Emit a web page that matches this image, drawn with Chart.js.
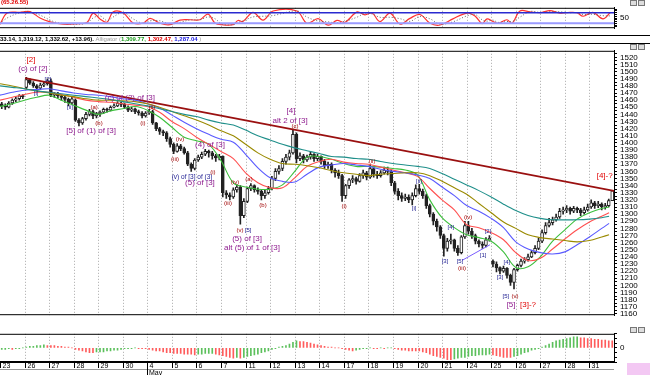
<!DOCTYPE html>
<html>
<head>
<meta charset="utf-8">
<script src="https://cdn.jsdelivr.net/npm/chart.js@4.4.1/dist/chart.umd.min.js"></script>
<style>
  body { margin: 0; background: #fff; width: 650px; height: 375px; overflow: hidden; position: relative; font-family: "Liberation Sans", Arial, sans-serif; }
  canvas { position: absolute; left: 0; }
  #osc { top: 0; }
  #main { top: 43px; }
  #hist { top: 326px; }
  .hdr { position: absolute; left: 0; top: 36px; font-size: 6px; line-height: 7px; font-weight: bold; white-space: nowrap; color: #000; }
  .hdr .g { color: #999; font-weight: normal; }
  .sep { position: absolute; left: 0; width: 650px; height: 1px; background: #000; }
  .tag { position: absolute; left: 1px; top: -1px; font-size: 6px; font-weight: bold; color: #e00000; }
  .pink { position: absolute; left: 627px; top: 363px; width: 23px; height: 12px; background: #f3c8f3; }
  .ico { position: absolute; width: 5px; height: 4px; border: 1px solid #777; background: #ddd; }
</style>
</head>
<body>
<canvas id="osc" width="650" height="36"></canvas>
<div class="tag">(65.26.55)</div>
<div class="ico" style="left:630px;top:0px"></div><div class="ico" style="left:638px;top:0px"></div>
<div class="sep" style="top:35px"></div>
<div class="hdr">33.14, 1,319.12, 1,332.62, +13.96). <span class="g">Alligator (</span><span style="color:#1a9a1a">1,309.77,</span> <span style="color:#e00000">1,302.47,</span> <span style="color:#2020e0">1,287.04</span> <span class="g">)</span></div>
<div class="sep" style="top:43px"></div>
<canvas id="main" width="650" height="280"></canvas>
<div class="ico" style="left:630px;top:44px"></div><div class="ico" style="left:638px;top:44px"></div>
<canvas id="hist" width="650" height="49"></canvas>
<div class="ico" style="left:630px;top:327px"></div><div class="ico" style="left:638px;top:327px"></div>
<div class="pink"></div>
<script>
/* graphique de type bourse : oscillateur, chandeliers + moyennes, histogramme */

// jours de séance (avril 23 -> mai 31), 7 barres par jour
const dayNames = ["23","26","27","28","29","30","4","5","6","7","11","12","13","14","17","18","19","20","21","24","25","26","27","28","31"];
const barsPerDay = 7;

// chandeliers (open / high / low / close), un bloc de 7 par jour
const opens = [
  1455,1452,1450,1456,1460,1462,1466, 1478,1489,1484,1480,1477,1481,1483,
  1487,1467,1469,1466,1464,1461,1456, 1460,1432,1428,1434,1440,1444,1438,
  1441,1443,1447,1446,1450,1452,1456, 1454,1450,1446,1448,1444,1442,1438,
  1442,1444,1428,1420,1416,1414,1406, 1398,1388,1396,1392,1386,1370,1364,
  1376,1380,1384,1388,1386,1382,1379, 1381,1330,1327,1324,1334,1338,1298,
  1318,1336,1340,1334,1332,1326,1330, 1336,1350,1360,1364,1374,1380,1386,
  1412,1378,1382,1376,1380,1384,1378, 1381,1374,1368,1370,1362,1358,1354,
  1326,1340,1348,1350,1346,1354,1358, 1352,1364,1356,1354,1358,1362,1360,
  1344,1332,1326,1322,1324,1320,1326, 1336,1332,1326,1312,1300,1290,1282,
  1270,1252,1262,1264,1252,1246,1268, 1284,1276,1270,1262,1258,1256,1264,
  1234,1230,1225,1220,1224,1214,1204, 1222,1228,1234,1236,1240,1246,1252,
  1262,1274,1284,1288,1292,1296,1304, 1306,1308,1304,1308,1306,1302,1306,
  1310,1316,1312,1314,1310,1312,1319
];
const highs = [
  1457,1455,1458,1462,1465,1468,1468, 1492,1490,1486,1482,1484,1486,1490,
  1490,1471,1471,1468,1466,1463,1464, 1462,1434,1436,1443,1447,1446,1443,
  1445,1449,1449,1452,1455,1458,1457, 1456,1452,1450,1449,1446,1444,1444,
  1447,1446,1429,1422,1418,1416,1408, 1400,1399,1398,1394,1388,1372,1378,
  1383,1387,1391,1390,1388,1384,1384, 1382,1333,1330,1337,1341,1340,1322,
  1338,1343,1341,1337,1334,1334,1339, 1353,1364,1368,1378,1384,1390,1419,
  1414,1386,1384,1383,1387,1385,1384, 1382,1377,1373,1372,1364,1362,1356,
  1342,1350,1354,1352,1357,1362,1360, 1370,1366,1360,1361,1366,1366,1362,
  1346,1336,1330,1328,1327,1330,1341, 1342,1335,1328,1314,1302,1293,1284,
  1272,1266,1272,1265,1256,1270,1290, 1290,1280,1272,1264,1261,1267,1270,
  1236,1233,1226,1227,1225,1216,1224, 1230,1237,1239,1244,1249,1256,1266,
  1278,1288,1294,1296,1300,1308,1310, 1312,1310,1311,1310,1308,1310,1314,
  1320,1318,1318,1316,1315,1321,1333
];
const lows = [
  1448,1447,1449,1454,1458,1460,1462, 1476,1482,1478,1473,1475,1479,1481,
  1465,1464,1463,1460,1457,1452,1454, 1430,1424,1426,1432,1438,1434,1435,
  1437,1441,1443,1445,1449,1451,1451, 1448,1444,1444,1441,1439,1435,1436,
  1440,1426,1417,1412,1410,1402,1394, 1385,1387,1389,1384,1368,1360,1362,
  1374,1378,1382,1380,1377,1374,1376, 1324,1322,1320,1322,1331,1286,1295,
  1316,1333,1331,1328,1320,1322,1328, 1334,1347,1356,1361,1370,1376,1384,
  1372,1375,1372,1374,1377,1374,1375, 1370,1364,1364,1358,1352,1350,1318,
  1322,1336,1344,1342,1345,1350,1348, 1350,1352,1350,1352,1356,1355,1340,
  1328,1320,1318,1319,1316,1313,1324, 1328,1322,1308,1296,1285,1276,1266,
  1241,1248,1258,1248,1242,1244,1266, 1272,1266,1258,1254,1252,1254,1262,
  1226,1219,1216,1218,1210,1200,1195, 1220,1226,1231,1234,1239,1244,1250,
  1260,1272,1282,1285,1290,1294,1300, 1302,1300,1302,1302,1298,1300,1304,
  1308,1308,1309,1306,1307,1310,1319
];
const closes = [
  1452,1450,1456,1460,1462,1466,1465, 1489,1484,1480,1477,1481,1483,1487,
  1467,1469,1466,1464,1461,1456,1462, 1432,1428,1434,1440,1444,1438,1441,
  1443,1447,1446,1450,1452,1456,1454, 1450,1446,1448,1444,1442,1438,1442,
  1444,1428,1420,1416,1414,1406,1398, 1388,1396,1392,1386,1370,1364,1376,
  1380,1384,1388,1386,1382,1379,1381, 1330,1327,1324,1334,1338,1298,1318,
  1336,1340,1334,1332,1326,1330,1336, 1350,1360,1364,1374,1380,1386,1412,
  1378,1382,1376,1380,1384,1378,1381, 1374,1368,1370,1362,1358,1354,1326,
  1340,1348,1350,1346,1354,1358,1352, 1364,1356,1354,1358,1362,1360,1344,
  1332,1326,1322,1324,1320,1326,1336, 1332,1326,1312,1300,1290,1282,1270,
  1252,1262,1264,1252,1246,1268,1284, 1276,1270,1262,1258,1256,1264,1266,
  1230,1225,1220,1224,1214,1204,1222, 1228,1234,1236,1240,1246,1252,1262,
  1274,1284,1288,1292,1296,1304,1306, 1308,1304,1308,1306,1302,1306,1310,
  1316,1312,1314,1310,1312,1319,1332.62
];

// moyennes mobiles, relevées tous les demi-jours
const maDays = [0,0.5,1,1.5,2,2.5,3,3.5,4,4.5,5,5.5,6,6.5,7,7.5,8,8.5,9,9.5,10,10.5,11,11.5,12,12.5,13,13.5,14,14.5,15,15.5,16,16.5,17,17.5,18,18.5,19,19.5,20,20.5,21,21.5,22,22.5,23,23.5,24,24.5,24.8];
const lips = [1451,1455,1460,1464,1467,1460,1453,1446,1440,1445,1448,1451,1446,1436,1422,1408,1403,1398,1375,1344,1338,1335,1335,1341,1360,1380,1381,1377,1371,1367,1367,1366,1364,1362,1355,1320,1295,1281,1271,1267,1262,1247,1225,1226,1240,1262,1278,1293,1302,1308,1310];
const teeth = [1460,1464,1468,1471,1471,1468,1464,1460,1458,1457,1455,1453,1451,1443,1430,1420,1408,1398,1388,1378,1358,1344,1337,1337,1351,1367,1374,1377,1373,1371,1370,1366,1362,1358,1353,1336,1320,1306,1285,1281,1274,1264,1246,1235,1238,1251,1265,1278,1289,1297,1302];
const jaw = [1467,1471,1474,1475,1476,1473,1470,1468,1467,1465,1462,1460,1455,1449,1439,1429,1420,1412,1405,1401,1384,1365,1351,1346,1345,1356,1366,1369,1371,1369,1367,1363,1360,1358,1355,1350,1338,1326,1312,1304,1294,1281,1261,1251,1246,1244,1247,1257,1268,1280,1287];
const maMid = [1483,1480,1476,1473,1470,1467,1465,1462,1460,1460,1459,1458,1455,1450,1444,1438,1432,1425,1417,1410,1398,1386,1377,1371,1370,1368,1365,1361,1358,1356,1354,1356,1357,1358,1358,1354,1346,1337,1328,1315,1302,1289,1280,1271,1267,1265,1263,1261,1263,1268,1271];
const maLong = [1480,1478,1476,1473,1471,1469,1467,1465,1463,1461,1458,1455,1452,1448,1444,1440,1437,1432,1428,1425,1418,1410,1404,1398,1393,1389,1385,1381,1380,1378,1377,1374,1371,1369,1367,1364,1357,1349,1341,1333,1324,1314,1305,1298,1294,1292,1292,1292,1293,1295,1297];

// lignes de tendance (jour, prix)
const trendDays = [1.02, 25];
const trendPrices = [1491, 1332.6];
const channelDays = [18.81, 19.95];
const channelPrices = [1235, 1257];

// oscillateur du haut
const oscDays = [0,0.29,0.81,1.22,1.63,2.04,2.32,2.73,3.14,3.54,3.79,4.07,4.36,4.6,5.01,5.42,5.82,6.11,6.51,6.92,7.33,7.74,8.14,8.47,8.75,9.04,9.49,9.69,9.89,10.3,10.71,11.12,12.09,12.5,12.95,13.36,13.72,14.05,14.54,14.86,15.15,15.47,15.88,16.29,16.69,17.1,17.51,17.92,18.44,19.01,19.34,19.63,19.83,20.07,20.28,20.64,20.85,21.17,21.58,21.99,22.39,22.8,23.21,23.49,23.74,24.14,24.55,24.84];
const oscK = [14,78,82,86,50,28,20,14,17,24,78,45,26,84,80,22,20,48,20,12,38,40,40,72,22,12,12,36,30,82,38,90,90,20,46,9,36,26,85,68,78,30,78,15,48,70,20,10,45,78,62,18,45,30,20,40,20,90,85,80,92,78,82,80,60,82,45,80];
const oscD = [20,50,80,84,66,38,24,17,15,21,50,62,35,55,82,45,20,34,34,16,25,39,40,56,46,16,12,24,33,56,60,64,90,55,33,28,22,31,55,76,73,54,54,46,31,59,45,15,28,62,70,40,32,38,25,30,30,55,87,82,86,85,80,81,70,71,63,62];
const oscLevels = [80, 20];

// histogramme du bas, une valeur par barre
const histValues = [
  -2,-2,-1,-2,-1,-1,0, 1,2,2,3,3,4,3, 3,3,2,2,1,1,0, -2,-3,-4,-5,-6,-6,-5,
  -5,-5,-4,-4,-3,-3,-2, -1,-1,-1,0,-1,-1,-1, -2,-3,-4,-4,-5,-6,-6, -7,-7,-7,-8,-8,-8,-9,
  -8,-8,-7,-7,-7,-8,-9, -10,-11,-12,-13,-12,-13,-12, -11,-10,-9,-8,-6,-5,-4, -2,-1,1,2,3,5,7,
  9,8,8,7,6,5,4, 3,2,1,1,0,0,-1, -2,-3,-4,-3,-2,-1,-1, 0,-1,-1,0,-1,0,0,
  -1,-2,-3,-3,-4,-4,-4, -4,-5,-6,-8,-10,-11,-12, -13,-15,-15,-14,-13,-12,-12, -11,-10,-10,-9,-9,-9,-8,
  -9,-10,-11,-12,-12,-12,-11, -10,-8,-6,-5,-3,-2,-1, 1,3,5,7,9,10,11, 12,13,14,14,13,13,12,
  12,11,11,10,10,9,9
];

// étiquettes d'Elliott : texte, jour, prix, couleur, taille
const RED = "#e00000", DRED = "#a00000", NAVY = "#1c1c90", PURP = "#8e1b8e";
const waveLabels = [
  ["[2]", 1.26, 1516, RED, 8], ["(c) of [2]", 1.34, 1504, PURP, 8],
  ["[i]", 1.47, 1470, NAVY, 6], ["[2]", 1.95, 1489.5, NAVY, 6],
  ["[ii]", 2.85, 1450, NAVY, 6], ["(a)", 3.83, 1450, DRED, 6],
  ["[5] of (1) of [3]", 3.71, 1416.6, PURP, 8], ["(b)", 4.03, 1427, DRED, 6],
  ["(c) of (2) of [3]", 5.29, 1463, PURP, 8], ["(i)", 5.82, 1427, DRED, 6],
  ["(ii)", 6.19, 1450, DRED, 6], ["(iii)", 7.13, 1377, DRED, 6],
  ["(iv)", 7.33, 1404.7, DRED, 6], ["(4) of [3]", 8.55, 1396.7, PURP, 8],
  ["(v) of [3] of (3)", 7.82, 1351.6, NAVY, 6.5], ["(5) of [3]", 8.14, 1343.7, PURP, 8],
  ["(i)", 8.67, 1358, DRED, 6], ["(iii)", 9.28, 1314.5, DRED, 6],
  ["(iv)", 9.57, 1345, DRED, 6], ["(a)", 10.14, 1349, DRED, 6],
  ["(b)", 10.71, 1312, DRED, 6], ["(v)", 9.77, 1277.4, DRED, 6],
  ["[5]", 10.1, 1277.4, NAVY, 6], ["(5) of [3]", 10.06, 1265.5, PURP, 8],
  ["alt (5) of 1 of [3]", 10.26, 1252.2, PURP, 8], ["[4]", 11.85, 1444.4, PURP, 8],
  ["alt 2 of [3]", 11.81, 1431.2, PURP, 8], ["(c)", 12.01, 1423.2, DRED, 6],
  ["(i)", 14.01, 1310.5, DRED, 6], ["(ii)", 15.15, 1374.2, DRED, 6],
  ["[i]", 16.86, 1307.9, NAVY, 6], ["[ii]", 17.06, 1346.3, NAVY, 6],
  ["[3]", 18.12, 1233.6, NAVY, 6], ["[4]", 18.36, 1281.4, NAVY, 6],
  ["[5]", 18.73, 1233.6, NAVY, 6], ["(iii)", 18.81, 1224.4, DRED, 6],
  ["(iv)", 19.06, 1296, DRED, 6], ["[1]", 19.67, 1242.3, NAVY, 6],
  ["[2]", 19.87, 1276.1, NAVY, 6], ["[3]", 20.36, 1211.1, NAVY, 6],
  ["[4]", 20.64, 1232.3, NAVY, 6], ["[5]", 20.6, 1184.6, NAVY, 6],
  ["(v)", 20.97, 1184.6, DRED, 6], ["[5]", 20.81, 1172.7, PURP, 8],
  ["[3]-?", 21.5, 1172.7, RED, 8], ["[4]-?", 24.62, 1354.3, RED, 8]
];

const PLOT_RIGHT_AXIS = 36;
const tickFont = { family: "Liberation Sans", size: 8 };

function barX(i) {
  return Math.floor(i / barsPerDay) + ((i % barsPerDay) + 0.5) / barsPerDay;
}

// lignes pointillées des séparations de jours + cadre
const dayGrid = {
  id: "dayGrid",
  beforeDatasetsDraw(chart) {
    const { ctx, chartArea: a, scales: { x } } = chart;
    ctx.save();
    ctx.strokeStyle = "#a8a8a8";
    ctx.lineWidth = 1;
    ctx.setLineDash([1, 2]);
    for (let d = 1; d < dayNames.length; d++) {
      const px = Math.round(x.getPixelForValue(d)) + 0.5;
      ctx.beginPath();
      ctx.moveTo(px, a.top);
      ctx.lineTo(px, a.bottom);
      ctx.stroke();
    }
    ctx.restore();
  },
  afterDraw(chart) {
    const { ctx, chartArea: a } = chart;
    ctx.save();
    ctx.strokeStyle = "#000";
    ctx.lineWidth = 1;
    ctx.beginPath();
    ctx.moveTo(0, a.top + 0.5); ctx.lineTo(a.right, a.top + 0.5);
    ctx.moveTo(0, a.bottom - 0.5); ctx.lineTo(a.right, a.bottom - 0.5);
    ctx.stroke();
    ctx.restore();
  }
};

const waveText = {
  id: "waveText",
  afterDatasetsDraw(chart) {
    const { ctx, scales: { x, y } } = chart;
    ctx.save();
    ctx.textAlign = "center";
    ctx.textBaseline = "middle";
    waveLabels.forEach(([t, d, p, c, s]) => {
      ctx.font = s + "px 'Liberation Sans'";
      ctx.fillStyle = c;
      ctx.fillText(t, x.getPixelForValue(d), y.getPixelForValue(p));
    });
    ctx.restore();
  }
};

const dateAxis = {
  id: "dateAxis",
  afterDraw(chart) {
    const { ctx, chartArea: a, scales: { x } } = chart;
    ctx.save();
    ctx.strokeStyle = "#000";
    ctx.lineWidth = 1;
    ctx.beginPath();
    ctx.moveTo(0, a.bottom + 0.5);
    ctx.lineTo(a.right, a.bottom + 0.5);
    ctx.stroke();
    ctx.strokeStyle = "#999";
    ctx.beginPath();
    ctx.moveTo(0, a.bottom + 7.5);
    ctx.lineTo(a.right, a.bottom + 7.5);
    ctx.stroke();
    ctx.strokeStyle = "#000";
    ctx.font = "7px 'Liberation Sans'";
    ctx.fillStyle = "#000";
    ctx.textBaseline = "top";
    dayNames.forEach((n, d) => {
      const px = Math.round(x.getPixelForValue(d)) + 0.5;
      ctx.beginPath();
      ctx.moveTo(px, a.bottom);
      ctx.lineTo(px, a.bottom + (d === 6 ? 13 : 6));
      ctx.stroke();
      ctx.fillText(n, px + 2, a.bottom + 1);
    });
    ctx.fillText("May", Math.round(x.getPixelForValue(6)) + 2, a.bottom + 8);
    ctx.restore();
  }
};

function rightAxis(min, max, step, label) {
  return {
    position: "right",
    min, max,
    afterFit(s) { s.width = PLOT_RIGHT_AXIS; },
    border: { display: true, color: "#000" },
    grid: { drawOnChartArea: false, drawTicks: true, tickLength: 3, color: "#000" },
    ticks: {
      stepSize: step, autoSkip: false, maxTicksLimit: 200, includeBounds: false,
      padding: 3, color: "#000", font: tickFont,
      callback: label
    }
  };
}

const xAxis = { type: "linear", min: 0, max: dayNames.length, display: false, offset: false };
const common = {
  responsive: false, animation: false, events: [],
  plugins: { legend: { display: false }, tooltip: { enabled: false } },
  elements: { point: { radius: 0 }, line: { borderWidth: 1.1, tension: 0.35 } }
};

/* oscillateur */
new Chart(document.getElementById("osc"), {
  type: "line",
  data: {
    datasets: [
      ...oscLevels.map((lv, i) => ({
        data: [{ x: 0, y: lv }, { x: dayNames.length, y: lv }],
        borderColor: i === 0 ? "#2a2ad0" : "#9a9aff", borderWidth: i === 0 ? 1.5 : 2, tension: 0
      })),
      { data: oscDays.map((d, i) => ({ x: d, y: oscD[i] })), borderColor: "#666", borderDash: [1, 2], borderWidth: 1 },
      { data: oscDays.map((d, i) => ({ x: d, y: oscK[i] })), borderColor: "#ff3030", borderWidth: 1.2 }
    ]
  },
  options: {
    ...common,
    layout: { padding: { top: 6, bottom: 1, left: 0, right: 0 } },
    scales: { x: xAxis, y: rightAxis(-8, 108, 10, v => v === 50 ? "50" : "") }
  },
  plugins: [dayGrid]
});

/* chandeliers + moyennes */
const upOrDown = closes.map((c, i) => c >= opens[i]);
function maLine(vals, color) {
  return { type: "line", order: 0, data: maDays.map((d, i) => ({ x: d, y: vals[i] })), borderColor: color };
}
new Chart(document.getElementById("main"), {
  type: "bar",
  data: {
    datasets: [
      { order: 2, grouped: false, barThickness: 1, backgroundColor: "#222",
        data: closes.map((c, i) => ({ x: barX(i), y: [lows[i], highs[i]] })) },
      { order: 1, grouped: false, barThickness: 3, minBarLength: 1, borderWidth: 1, borderColor: "#222",
        borderSkipped: false,
        backgroundColor: upOrDown.map(u => u ? "#fff" : "#222"),
        data: closes.map((c, i) => ({ x: barX(i), y: [opens[i], c] })) },
      maLine(maLong, "#1f8f8a"),
      maLine(maMid, "#9a8a00"),
      maLine(jaw, "#5a5aff"),
      maLine(teeth, "#ff5050"),
      maLine(lips, "#3cbf3c"),
      { type: "line", order: 0, tension: 0, borderColor: "#7a5cff", borderWidth: 1,
        data: channelDays.map((d, i) => ({ x: d, y: channelPrices[i] })) },
      { type: "line", order: 0, tension: 0, borderColor: "#9a1010", borderWidth: 1.8,
        data: trendDays.map((d, i) => ({ x: d, y: trendPrices[i] })) }
    ]
  },
  options: {
    ...common,
    layout: { padding: 0 },
    scales: { x: xAxis, y: rightAxis(1158.1, 1529.3, 5, v => v % 10 === 0 ? String(v) : "") }
  },
  plugins: [dayGrid, waveText]
});

/* histogramme */
let lastColor = "#5cc05c";
const histColors = histValues.map((v, i) => {
  if (i > 0 && v > histValues[i - 1]) lastColor = "#5cc05c";
  else if (i > 0 && v < histValues[i - 1]) lastColor = "#ff5c5c";
  return lastColor;
});
new Chart(document.getElementById("hist"), {
  type: "bar",
  data: {
    datasets: [{
      grouped: false, barThickness: 1, backgroundColor: histColors,
      data: histValues.map((v, i) => ({ x: barX(i), y: v }))
    }]
  },
  options: {
    ...common,
    layout: { padding: { top: 0, bottom: 13, left: 0, right: 0 } },
    scales: { x: xAxis, y: rightAxis(-18, 18, 6, v => v === 0 ? "0" : "") }
  },
  plugins: [dayGrid, dateAxis]
});
</script>
</body>
</html>
